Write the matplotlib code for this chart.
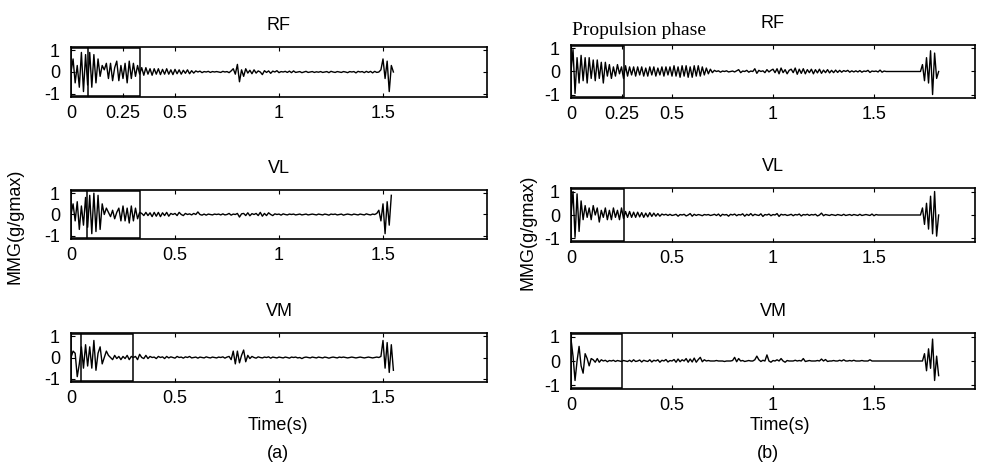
import numpy as np
import matplotlib
matplotlib.use("Agg")
import matplotlib.pyplot as plt
from matplotlib.patches import Rectangle

plt.rcParams['font.family'] = ['Liberation Sans', 'DejaVu Sans']

dt = 0.01  # sampling step of the hand-read traces (s)

# ---------- (a) ----------
rf_a = [0.0, 0.6, -0.5, 0.3, -0.7, 0.9, -0.9, 0.8, -0.6, 0.9,
        -0.7, 0.8, -0.5, 0.6, -0.2, 0.3, 0.1, 0.4, -0.3, 0.4,
        -0.4, 0.2, 0.5, -0.4, 0.3, -0.3, 0.4, -0.5, 0.5, -0.3,
        0.4, -0.2, 0.3, -0.1, 0.2, -0.15, 0.2, -0.1, 0.15, -0.15,
        0.15, -0.1, 0.15, -0.12, 0.12, -0.1, 0.15, -0.1, 0.1, -0.12,
        0.12, -0.08, 0.1, -0.1, 0.08, -0.06, 0.1, -0.08, 0.06, -0.05,
        0.05, 0.0, 0.04, -0.03, 0.02, 0.0, 0.03, -0.02, 0.02, 0.0,
        0.02, 0.0, -0.02, 0.03, 0.0, 0.02, -0.03, 0.05, 0.15, -0.1,
        0.35, -0.45, 0.1, -0.2, 0.15, -0.05, 0.08, -0.08, 0.1, -0.05,
        0.05, 0.0, -0.12, 0.06, -0.02, 0.05, -0.06, 0.04, 0.0, 0.06,
        -0.03, 0.02, 0.0, 0.03, -0.02, 0.04, -0.03, 0.05, -0.02, 0.0,
        0.02, -0.03, 0.0, 0.03, -0.02, 0.0, 0.02, -0.02, 0.01, -0.01,
        0.02, -0.02, 0.0, 0.02, -0.03, 0.03, 0.0, -0.02, 0.02, 0.0,
        -0.02, 0.02, 0.0, -0.03, 0.02, 0.0, 0.02, -0.04, 0.03, 0.0,
        0.02, -0.03, 0.03, -0.02, 0.03, -0.04, 0.03, -0.02, 0.0, 0.1,
        0.6, -0.3, 0.5, -0.9, 0.3, 0.0]

vl_a = [0.0, 0.5, -0.3, 0.6, -0.7, 0.4, -0.5, 0.8, -0.6, 0.9,
        -0.9, 1.0, -0.8, 0.9, -0.7, 0.5, 0.0, 0.3, 0.1, -0.1,
        0.2, -0.2, 0.1, 0.3, -0.3, 0.4, -0.3, 0.3, -0.4, 0.4,
        -0.3, 0.3, -0.2, 0.1, 0.05, -0.05, 0.1, -0.05, 0.08, -0.1,
        0.1, -0.08, 0.1, -0.1, 0.08, -0.05, 0.1, -0.08, 0.05, 0.0,
        0.05, -0.05, 0.1, 0.0, -0.05, 0.05, 0.0, 0.03, -0.02, 0.05,
        0.0, 0.12, 0.0, -0.03, 0.02, -0.03, 0.02, 0.0, -0.02, 0.02,
        0.0, 0.02, -0.02, 0.03, -0.02, 0.0, 0.05, -0.03, 0.02, 0.0,
        0.05, -0.12, 0.03, 0.05, -0.05, 0.08, -0.06, 0.04, 0.0, 0.05,
        -0.05, 0.1, -0.08, 0.05, -0.05, 0.08, 0.0, -0.05, 0.03, 0.0,
        0.02, -0.03, 0.03, 0.0, -0.02, 0.02, 0.0, 0.02, -0.02, 0.0,
        0.02, -0.02, 0.0, 0.02, -0.02, 0.0, 0.02, 0.0, -0.02, 0.02,
        0.0, -0.02, 0.02, 0.0, -0.03, 0.02, 0.0, 0.02, -0.02, 0.0,
        0.02, -0.03, 0.0, 0.02, 0.0, -0.02, 0.02, 0.0, -0.02, 0.02,
        0.0, -0.02, 0.03, 0.0, -0.02, 0.02, 0.0, 0.05, 0.2, -0.3,
        0.5, -0.9, 0.6, -0.5, 0.9]

vm_a = [0.0, 0.3, 0.2, -0.9, -0.3, 0.5, -0.5, 0.6, -0.4, 0.5,
        -0.5, 0.8, -0.6, 0.2, 0.5, -0.3, 0.0, 0.3, 0.1, 0.0,
        -0.1, 0.1, -0.05, 0.05, -0.1, 0.05, -0.05, 0.1, -0.1, 0.05,
        0.0, 0.05, -0.1, 0.15, 0.0, -0.05, 0.1, -0.05, 0.05, 0.0,
        0.02, -0.05, 0.05, 0.0, 0.03, -0.05, 0.05, -0.02, 0.03, 0.0,
        -0.03, 0.05, 0.0, 0.02, -0.03, 0.03, 0.0, 0.05, -0.02, 0.0,
        0.02, -0.03, 0.02, 0.0, -0.02, 0.03, 0.0, -0.02, 0.02, 0.0,
        -0.02, 0.02, 0.0, 0.03, -0.03, 0.02, 0.05, -0.1, 0.3, -0.3,
        0.3, -0.25, 0.1, 0.35, -0.2, 0.1, -0.05, 0.05, 0.0, -0.03,
        0.03, 0.0, -0.02, 0.02, 0.0, 0.03, -0.03, 0.02, 0.0, -0.02,
        0.02, 0.0, -0.02, 0.02, 0.0, -0.03, 0.02, 0.0, 0.02, -0.02,
        0.0, -0.05, 0.0, 0.02, 0.0, -0.02, 0.02, 0.0, -0.02, 0.02,
        0.0, -0.02, 0.02, 0.0, -0.03, 0.0, 0.02, 0.0, -0.02, 0.02,
        0.0, 0.02, 0.0, -0.02, 0.0, 0.02, 0.0, -0.02, 0.0, 0.02,
        0.0, -0.02, 0.0, 0.02, 0.0, -0.02, 0.0, 0.02, 0.0, 0.05,
        0.8, -0.5, 0.7, -0.7, 0.6, -0.6]

# ---------- (b) ----------
rf_b = [0.0, 0.95, -0.95, 0.6, -0.5, 0.7, -0.4, 0.6, -0.5, 0.6,
        -0.3, 0.5, -0.4, 0.5, -0.3, 0.4, -0.5, 0.4, -0.2, 0.3,
        -0.3, 0.2, -0.2, 0.3, -0.1, 0.2, -0.3, 0.25, -0.2, 0.2,
        -0.15, 0.2, -0.2, 0.2, -0.15, 0.2, -0.2, 0.15, -0.2, 0.2,
        -0.15, 0.2, -0.2, 0.15, -0.15, 0.2, -0.2, 0.2, -0.15, 0.2,
        -0.2, 0.25, -0.2, 0.2, -0.25, 0.25, -0.2, 0.25, -0.25, 0.2,
        -0.25, 0.25, -0.2, 0.25, -0.2, 0.2, -0.15, 0.15, -0.1, 0.1,
        -0.05, 0.05, 0.0, 0.03, -0.03, 0.02, 0.0, 0.03, -0.02, 0.0,
        0.02, -0.02, 0.03, 0.08, -0.05, 0.02, 0.0, 0.05, -0.03, 0.02,
        0.0, 0.12, -0.08, 0.05, 0.0, 0.03, -0.05, 0.08, -0.02, 0.05,
        0.1, -0.05, 0.12, -0.1, 0.15, -0.05, 0.08, -0.1, 0.05, 0.1,
        -0.05, 0.15, -0.12, 0.1, -0.08, 0.12, -0.1, 0.08, -0.05, 0.1,
        -0.1, 0.08, -0.06, 0.1, -0.08, 0.06, -0.05, 0.08, -0.06, 0.05,
        -0.05, 0.06, -0.04, 0.05, -0.03, 0.04, 0.0, 0.05, -0.03, 0.03,
        -0.02, 0.03, -0.02, 0.04, -0.03, 0.02, 0.0, 0.05, -0.04, 0.02,
        0.0, 0.02, -0.02, 0.06, -0.03, 0.02, 0.0, 0.0, 0.0, 0.0,
        0.0, 0.0, 0.0, 0.0, 0.0, 0.0, 0.0, 0.0, 0.0, 0.0,
        0.0, 0.0, 0.0, 0.0, 0.3, -0.4, 0.6, -0.5, 0.9, -1.0,
        0.8, -0.3, 0.0]

vl_b = [0.0, 1.0, -0.95, 0.9, -0.7, 0.6, -0.2, 0.4, -0.1, 0.3,
        -0.2, 0.4, 0.0, 0.3, -0.3, 0.2, -0.1, 0.3, -0.2, 0.2,
        -0.2, 0.3, -0.1, 0.2, -0.2, 0.3, -0.15, 0.15, -0.1, 0.15,
        -0.1, 0.12, -0.1, 0.12, -0.08, 0.1, -0.1, 0.08, -0.08, 0.1,
        -0.06, 0.08, -0.05, 0.06, -0.05, 0.04, 0.0, 0.03, -0.02, 0.03,
        -0.02, 0.0, 0.03, -0.05, 0.02, 0.0, 0.03, -0.04, 0.0, 0.06,
        -0.05, 0.03, -0.02, 0.02, 0.0, -0.03, 0.02, 0.0, 0.02, -0.02,
        0.0, 0.03, -0.02, 0.04, -0.05, 0.03, 0.0, 0.02, -0.05, 0.03,
        0.0, 0.04, -0.03, 0.02, 0.0, 0.05, -0.05, 0.03, -0.02, 0.06,
        -0.03, 0.03, 0.0, -0.02, 0.05, -0.06, 0.02, 0.0, 0.04, -0.03,
        0.02, 0.0, 0.06, -0.06, 0.03, 0.0, 0.02, -0.02, 0.0, 0.03,
        -0.03, 0.02, 0.0, 0.04, -0.04, 0.02, 0.0, 0.03, -0.02, 0.02,
        0.0, 0.03, -0.04, 0.0, 0.08, -0.03, 0.02, 0.0, -0.02, 0.02,
        0.0, -0.02, 0.02, 0.0, -0.02, 0.03, -0.02, 0.0, 0.02, -0.02,
        0.02, 0.0, -0.02, 0.03, -0.02, 0.0, 0.02, 0.0, -0.02, 0.04,
        -0.03, 0.02, 0.0, 0.0, 0.0, 0.0, 0.0, 0.0, 0.0, 0.0,
        0.0, 0.0, 0.0, 0.0, 0.0, 0.0, 0.0, 0.0, 0.0, 0.0,
        0.0, 0.0, 0.0, 0.0, 0.3, -0.4, 0.5, -0.6, 0.8, -0.8,
        1.0, -0.9, 0.0]

vm_b = [0.9, 0.2, -0.8, 0.0, 0.6, -0.2, -0.5, 0.3, 0.1, -0.2,
        0.1, 0.05, -0.05, 0.1, -0.05, 0.05, 0.0, 0.03, -0.03, 0.02,
        0.0, 0.03, -0.02, 0.02, 0.0, -0.02, 0.02, 0.0, -0.02, 0.03,
        -0.03, 0.05, -0.02, 0.0, 0.04, -0.04, 0.03, 0.0, -0.02, 0.05,
        -0.04, 0.03, 0.0, 0.05, -0.05, 0.03, 0.0, 0.06, -0.04, 0.02,
        0.0, 0.06, -0.05, 0.08, -0.03, 0.05, 0.0, 0.1, -0.05, 0.08,
        -0.04, 0.12, -0.05, 0.06, 0.15, -0.03, 0.05, 0.0, 0.02, 0.0,
        0.0, 0.0, 0.02, 0.0, 0.0, 0.0, -0.02, 0.0, 0.0, 0.0,
        0.02, 0.15, -0.03, 0.1, 0.0, 0.02, -0.02, 0.0, 0.02, 0.0,
        0.0, 0.05, 0.2, 0.05, -0.02, 0.03, 0.0, 0.25, 0.0, -0.05,
        0.02, 0.0, 0.05, 0.0, 0.1, 0.0, -0.05, 0.02, 0.0, 0.0,
        0.0, 0.03, 0.0, 0.02, 0.0, 0.1, -0.02, 0.0, 0.02, 0.0,
        0.0, 0.0, 0.02, 0.0, 0.08, 0.0, 0.06, -0.02, 0.0, 0.0,
        0.02, 0.0, 0.0, 0.03, 0.0, 0.05, 0.0, 0.0, 0.02, 0.0,
        0.03, 0.0, 0.0, 0.0, 0.02, 0.0, 0.0, 0.0, 0.05, 0.0,
        0.0, 0.0, 0.0, 0.0, 0.0, 0.0, 0.0, 0.0, 0.0, 0.0,
        0.0, 0.0, 0.0, 0.0, 0.0, 0.0, 0.0, 0.0, 0.0, 0.0,
        0.0, 0.0, 0.0, 0.0, 0.0, 0.3, -0.4, 0.5, -0.3, 0.9,
        -0.8, 0.2, -0.6]

muscles = ["RF", "VL", "VM"]
signals_a = [rf_a, vl_a, vm_a]
signals_b = [rf_b, vl_b, vm_b]
# phase-box boundaries (s): (a) has an inner line plus the box end
boxes_a = [[0.08, 0.33], [0.077, 0.33], [0.05, 0.30]]
boxes_b = [[0.26], [0.26], [0.25]]
xticks_top = [0, 0.25, 0.5, 1, 1.5]
xticklabels_top = ["0", "0.25", "0.5", "1", "1.5"]
xticks = [0, 0.5, 1, 1.5]
xticklabels = ["0", "0.5", "1", "1.5"]
yticks = [-1, 0, 1]

W, H = 983, 469
fig = plt.figure(figsize=(W / 100, H / 100), dpi=100)

# axes rectangles in pixels: (left, top, right, bottom)
pos_a = [(71, 47, 487, 97), (71, 190, 487, 239), (71, 333, 487, 382)]
pos_b = [(571, 45, 975, 98), (571, 188, 975, 242), (571, 333, 975, 389)]


def px2fig(l, t, r, b):
    return [l / W, 1 - b / H, (r - l) / W, (b - t) / H]


FS = 13
for col, (pos, sigs, boxes) in enumerate([(pos_a, signals_a, boxes_a),
                                          (pos_b, signals_b, boxes_b)]):
    for row in range(3):
        ax = fig.add_axes(px2fig(*pos[row]))
        y = np.asarray(sigs[row])
        t = np.arange(len(y)) * dt
        ax.plot(t, y, color="black", lw=1.0)
        ax.set_xlim(0, 2)
        ax.set_ylim(-1.15, 1.15)
        ends = boxes[row]
        ax.add_patch(Rectangle((0, -1.09), ends[-1], 2.18, fill=False,
                               edgecolor="black", lw=1.1))
        for e in ends[:-1]:
            ax.plot([e, e], [-1.15, 1.15], color="black", lw=1.1)
        if row == 0:
            ax.set_xticks(xticks_top)
            ax.set_xticklabels(xticklabels_top)
        else:
            ax.set_xticks(xticks)
            ax.set_xticklabels(xticklabels)
        ax.set_yticks(yticks)
        ax.set_yticklabels(["-1", "0", "1"])
        ax.tick_params(direction="in", length=3, width=0.8, top=True,
                       right=True, labelsize=FS, colors="black")
        ax.tick_params(axis="x", pad=6)
        ax.tick_params(axis="y", pad=8)
        for s in ax.spines.values():
            s.set_linewidth(1.2)
        ax.set_title(muscles[row], fontsize=FS, pad=12)

# y labels
fig.text(15 / W, 1 - 226 / H, "MMG(g/gmax)", rotation=90, ha="center",
         va="center", fontsize=FS)
fig.text(528 / W, 1 - 232 / H, "MMG(g/gmax)", rotation=90, ha="center",
         va="center", fontsize=FS)

# x labels and panel letters
fig.text(278 / W, 1 - 425 / H, "Time(s)", ha="center", va="center", fontsize=FS)
fig.text(278 / W, 1 - 453 / H, "(a)", ha="center", va="center", fontsize=FS)
fig.text(780 / W, 1 - 425 / H, "Time(s)", ha="center", va="center", fontsize=FS)
fig.text(768 / W, 1 - 453 / H, "(b)", ha="center", va="center", fontsize=FS)

fig.text(572 / W, 1 - 30 / H, "Propulsion phase", ha="left", va="center",
         fontsize=14, family=["Liberation Serif", "DejaVu Serif"])

fig.savefig("out.png", dpi=100)
